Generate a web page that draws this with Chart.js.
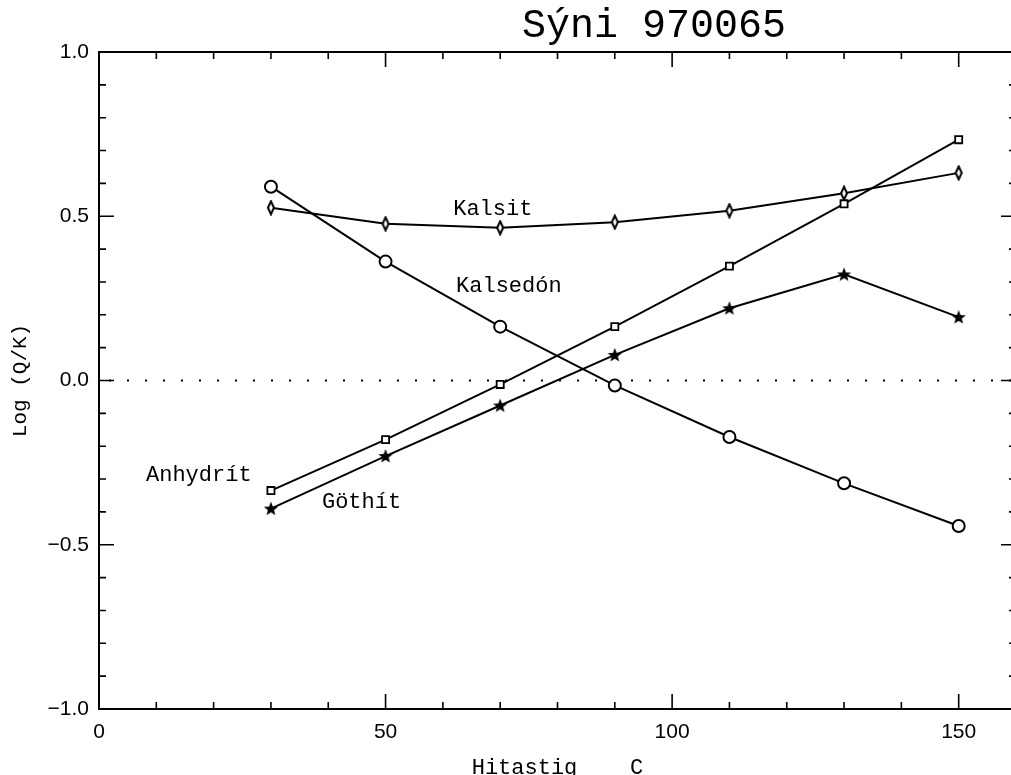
<!DOCTYPE html>
<html>
<head>
<meta charset="utf-8">
<script src="https://cdn.jsdelivr.net/npm/chart.js@4"></script>
<style>
html, body { margin: 0; padding: 0; background: #fff; overflow: hidden; }
#wrap { width: 1027px; height: 775px; }
</style>
</head>
<body>
<div id="wrap"><canvas id="myChart" width="1027" height="775"></canvas></div>
<script>
// Hitastig (C) og Log(Q/K) lesin af myndinni
const temps = [30, 50, 70, 90, 110, 130, 150];
const kalsit = [0.526, 0.477, 0.465, 0.482, 0.517, 0.570, 0.632];
const kalsedon = [0.590, 0.362, 0.164, -0.015, -0.172, -0.313, -0.443];
const anhydrit = [-0.335, -0.180, -0.012, 0.164, 0.348, 0.538, 0.733];
const gothit = [-0.390, -0.230, -0.076, 0.078, 0.220, 0.323, 0.193];
const xTickLabels = [0, 50, 100, 150];
const yTickLabels = [1.0, 0.5, 0.0, -0.5, -1.0];
const curveNames = ['Kalsit', 'Kalsedón', 'Anhydrít', 'Göthít'];

function makeMarker(kind) {
    const c = document.createElement('canvas');
    c.width = 16; c.height = 16;
    const g = c.getContext('2d');
    g.strokeStyle = '#000';
    g.fillStyle = '#000';
    if (kind === 'diamond') {
        g.lineWidth = 2;
        g.beginPath();
        g.moveTo(8, 1.5); g.lineTo(11, 8); g.lineTo(8, 14.5); g.lineTo(5, 8);
        g.closePath();
        g.fillStyle = '#fff';
        g.fill();
        g.stroke();
    } else if (kind === 'star') {
        g.beginPath();
        for (let i = 0; i < 10; i++) {
            const r = i % 2 === 0 ? 7.5 : 3.2;
            const a = -Math.PI / 2 + i * Math.PI / 5;
            const px = 8 + r * Math.cos(a), py = 8.5 + r * Math.sin(a);
            if (i === 0) g.moveTo(px, py); else g.lineTo(px, py);
        }
        g.closePath();
        g.fill();
    }
    return c;
}

function pairs(vals) {
    return temps.map((t, i) => ({x: t, y: vals[i]}));
}

const frameTicks = {
    id: 'frameTicks',
    beforeDatasetsDraw(chart) {
        const {ctx, chartArea: a, scales: {y}} = chart;
        const y0 = y.getPixelForValue(0);
        ctx.save();
        ctx.strokeStyle = '#000';
        ctx.lineWidth = 2;
        ctx.setLineDash([2, 16]);
        ctx.beginPath();
        ctx.moveTo(a.left + 10, y0);
        ctx.lineTo(a.right, y0);
        ctx.stroke();
        ctx.restore();
    },
    afterDatasetsDraw(chart) {
        const {ctx, chartArea: a, scales: {x, y}} = chart;
        ctx.save();
        ctx.strokeStyle = '#000';
        ctx.lineWidth = 2;
        ctx.strokeRect(a.left, a.top, a.right - a.left, a.bottom - a.top);
        ctx.lineWidth = 1.6;
        ctx.beginPath();
        x.ticks.forEach(t => {
            const px = x.getPixelForValue(t.value);
            const len = Math.abs(t.value % 50) < 1e-6 ? 15 : 7;
            ctx.moveTo(px, a.bottom); ctx.lineTo(px, a.bottom - len);
            ctx.moveTo(px, a.top); ctx.lineTo(px, a.top + len);
        });
        y.ticks.forEach(t => {
            const py = y.getPixelForValue(t.value);
            const major = Math.abs(t.value * 2 - Math.round(t.value * 2)) < 1e-6;
            const len = major ? 15 : 7;
            ctx.moveTo(a.left, py); ctx.lineTo(a.left + len, py);
            ctx.moveTo(a.right, py); ctx.lineTo(a.right - len, py);
        });
        ctx.stroke();

        // heiti ferlanna
        const where = {
            'Kalsit': [61.8, 0.505],
            'Kalsedón': [62.3, 0.268],
            'Anhydrít': [8.2, -0.307],
            'Göthít': [38.9, -0.387]
        };
        ctx.fillStyle = '#000';
        ctx.font = '22px "Liberation Mono"';
        ctx.textAlign = 'left';
        ctx.textBaseline = 'alphabetic';
        curveNames.forEach(n => {
            const p = where[n];
            ctx.fillText(n, x.getPixelForValue(p[0]), y.getPixelForValue(p[1]));
        });

        // titill
        ctx.font = '40px "Liberation Mono"';
        ctx.fillText('Sýni 970065', 522, 37);
        ctx.restore();
    }
};

const ctx = document.getElementById('myChart').getContext('2d');
const common = {
    borderColor: '#000',
    backgroundColor: '#fff',
    borderWidth: 2,
    pointBorderColor: '#000',
    pointBackgroundColor: '#fff',
    tension: 0,
    fill: false
};

const chart = new Chart(ctx, {
    type: 'line',
    data: {
        datasets: [
            Object.assign({}, common, {label: curveNames[0], data: pairs(kalsit),
                pointStyle: makeMarker('diamond'), pointRadius: 8}),
            Object.assign({}, common, {label: curveNames[1], data: pairs(kalsedon),
                pointStyle: 'circle', pointRadius: 6, pointBorderWidth: 2}),
            Object.assign({}, common, {label: curveNames[2], data: pairs(anhydrit),
                pointStyle: 'rect', pointRadius: 5, pointBorderWidth: 1.8}),
            Object.assign({}, common, {label: curveNames[3], data: pairs(gothit),
                pointStyle: makeMarker('star'), pointRadius: 8})
        ]
    },
    options: {
        responsive: false,
        animation: false,
        layout: {padding: {top: 52, right: 0, left: 0, bottom: 0}},
        plugins: {legend: {display: false}, tooltip: {enabled: false}, title: {display: false}},
        scales: {
            x: {
                type: 'linear',
                min: 0, max: 160,
                afterFit: s => { s.height = 66; },
                grid: {display: false, drawTicks: false},
                border: {display: false},
                ticks: {
                    stepSize: 10, autoSkip: false, maxRotation: 0, padding: 11,
                    color: '#000',
                    font: {family: '"Liberation Sans"', size: 21},
                    callback: v => xTickLabels.includes(v) ? String(v) : ''
                },
                title: {
                    display: true, text: 'Hitastig    C', color: '#000',
                    font: {family: '"Liberation Mono"', size: 22},
                    padding: {top: 0, bottom: -6}
                }
            },
            y: {
                min: -1, max: 1,
                afterFit: s => { s.width = 99; },
                grid: {display: false, drawTicks: false},
                border: {display: false},
                ticks: {
                    stepSize: 0.1, autoSkip: false, padding: 10,
                    color: '#000',
                    font: {family: '"Liberation Sans"', size: 21},
                    callback: v => {
                        const hit = yTickLabels.find(l => Math.abs(l - v) < 1e-6);
                        if (hit === undefined) return '';
                        return hit.toFixed(1).replace('-', '\u2212');
                    }
                },
                title: {
                    display: true, text: 'Log (Q/K)', color: '#000',
                    font: {family: '"Liberation Mono"', size: 21},
                    padding: {top: 8, bottom: 0}
                }
            }
        }
    },
    plugins: [frameTicks]
});
</script>
</body>
</html>
